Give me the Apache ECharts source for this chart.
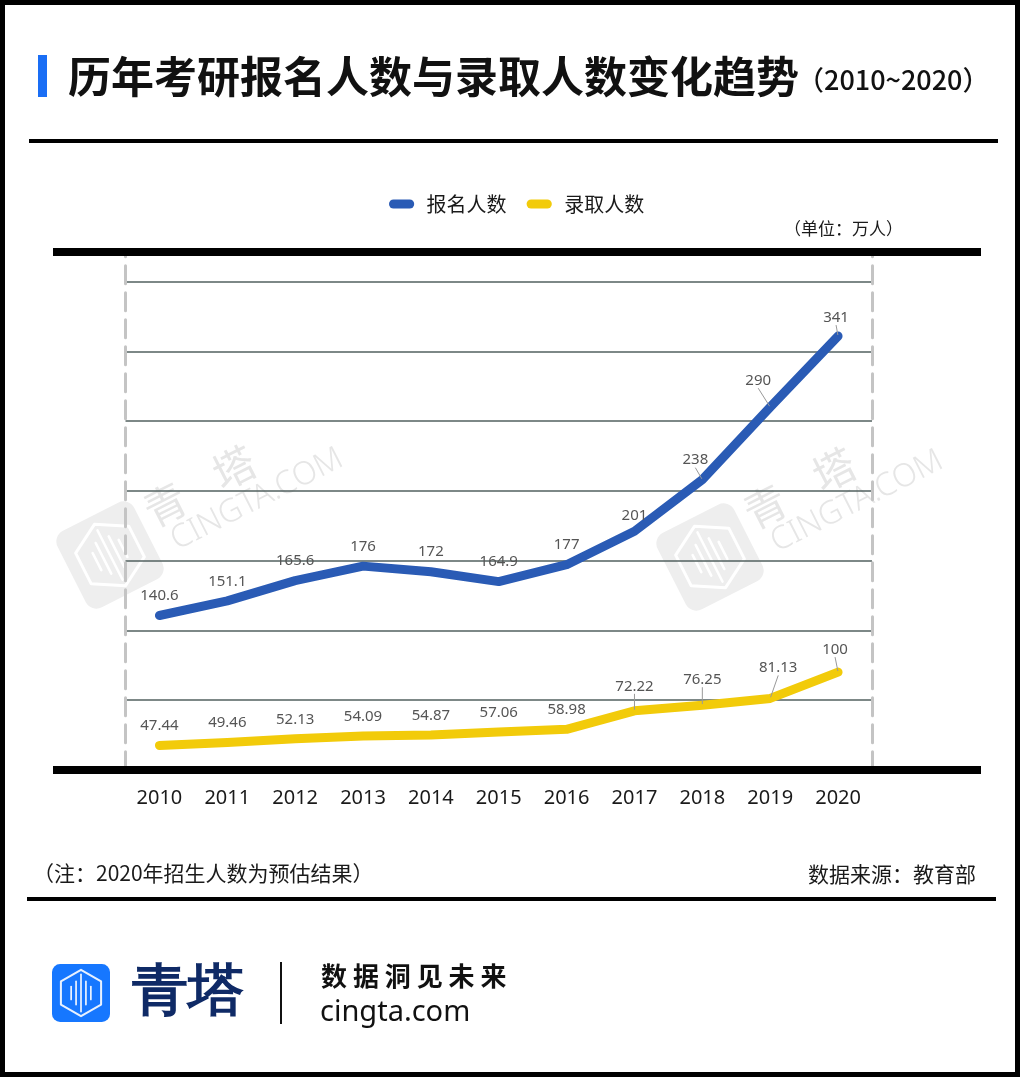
<!DOCTYPE html>
<html>
<head>
<meta charset="utf-8">
<script src="https://cdn.jsdelivr.net/npm/echarts@6/dist/echarts.min.js"></script>
<style>
html,body{margin:0;padding:0;background:#fff;}
#chart{width:1020px;height:1077px;}
</style>
</head>
<body>
<div id="chart"></div>
<script>
const years = ['2010','2011','2012','2013','2014','2015','2016','2017','2018','2019','2020'];
const applicants = [140.6, 151.1, 165.6, 176, 172, 164.9, 177, 201, 238, 290, 341];
const admitted = [47.44, 49.46, 52.13, 54.09, 54.87, 57.06, 58.98, 72.22, 76.25, 81.13, 100];
const seriesNames = ['报名人数', '录取人数'];
const yMin = 30, yMax = 400, yStep = 50;

const FONT = '"Noto Sans CJK SC","Noto Sans",sans-serif';

// label offsets (style only)
const labelShift = {
  '0-7': [0, 4], '0-8': [-7, 0], '0-9': [-12, -7], '0-10': [-2, 1],
  '1-7': [0, -5], '1-8': [0, -6], '1-9': [8, -11], '1-10': [-3, -3]
};
const leaderIdx = [[8, 9, 10], [7, 8, 9, 10]];

function buildData(vals, s) {
  return vals.map((v, i) => leaderIdx[s].indexOf(i) >= 0
    ? { value: v, labelLine: { show: true } }
    : { value: v });
}

function hexPoints(cx, cy, r) {
  const pts = [];
  for (let k = 0; k < 6; k++) {
    const a = (-90 + 60 * k) * Math.PI / 180;
    pts.push([cx + r * Math.cos(a), cy + r * Math.sin(a)]);
  }
  return pts;
}
function logoGroup(cx, cy, size, fill, stroke, rot, extra) {
  const half = size / 2;
  const r = size * 0.4;
  const children = [
    { type: 'rect', shape: { x: -half, y: -half, width: size, height: size, r: size * 0.14 }, style: { fill: fill } },
    { type: 'polygon', shape: { points: hexPoints(0, 0, r) }, style: { fill: 'none', stroke: stroke, lineWidth: size * 0.035, lineJoin: 'round' } }
  ];
  const hs = [0.28, 0.5, 0.8, 0.5, 0.28];
  for (let k = 0; k < 5; k++) {
    const x = (k - 2) * size * 0.085;
    const h = hs[k] * r;
    children.push({ type: 'line', shape: { x1: x, y1: -h, x2: x, y2: h }, style: { stroke: stroke, lineWidth: size * 0.03, lineCap: 'round' } });
  }
  return { type: 'group', x: cx, y: cy, rotation: rot, children: children.concat(extra || []), z: 1 };
}
function watermark(cx, cy) {
  const wmColor = '#e6e6e6';
  return logoGroup(cx, cy, 86, '#eeeeee', '#ffffff', 0.47, [
    { type: 'text', x: 72, y: -20, style: { text: '青', fill: wmColor, font: '42px ' + FONT, align: 'center', verticalAlign: 'middle' } },
    { type: 'text', x: 150, y: -22, style: { text: '塔', fill: wmColor, font: '42px ' + FONT, align: 'center', verticalAlign: 'middle' } },
    { type: 'text', x: 62, y: 33, style: { text: 'CINGTA.COM', fill: wmColor, font: '300 32px "Noto Sans",sans-serif', align: 'left', verticalAlign: 'bottom' } }
  ]);
}

const chart = echarts.init(document.getElementById('chart'), null, { renderer: 'canvas' });

const option = {
  backgroundColor: '#ffffff',
  animation: false,
  legend: {
    data: seriesNames,
    left: 389,
    top: 194,
    padding: 0,
    itemWidth: 28,
    itemHeight: 9,
    itemGap: 20,
    icon: 'path://M5,0H23A5,5,0,0,1,23,10H5A5,5,0,0,1,5,0Z',
    textStyle: { fontSize: 20, color: '#1a1a1a', fontFamily: FONT, padding: [0, 0, 0, 6] }
  },
  grid: { left: 125.5, right: 148, top: 253.8, bottom: 307.3, containLabel: false },
  xAxis: {
    type: 'category',
    data: years,
    boundaryGap: true,
    axisLine: { show: false },
    axisTick: { show: false },
    axisLabel: { fontSize: 20, color: '#1a1a1a', fontFamily: '"Noto Sans",sans-serif', margin: 19 }
  },
  yAxis: [
    {
      type: 'value', min: yMin, max: yMax, interval: yStep,
      axisLine: { show: true, lineStyle: { color: '#c4c4c4', width: 3, type: [18, 9] } },
      axisTick: { show: false },
      axisLabel: { show: false },
      splitLine: { show: true, lineStyle: { color: '#52605f', width: 1.5 } }
    },
    {
      type: 'value', min: yMin, max: yMax, interval: yStep, position: 'right',
      axisLine: { show: true, lineStyle: { color: '#c4c4c4', width: 3, type: [18, 9] } },
      axisTick: { show: false },
      axisLabel: { show: false },
      splitLine: { show: false }
    }
  ],
  series: [
    {
      name: seriesNames[0], type: 'line', data: buildData(applicants, 0),
      symbol: 'circle', symbolSize: 2, showSymbol: true,
      itemStyle: { color: '#2a5bb5' },
      lineStyle: { color: '#2a5bb5', width: 9, cap: 'round', join: 'round' },
      label: { show: true, position: 'top', distance: 11, fontSize: 15, color: '#555', fontFamily: '"Noto Sans",sans-serif' },
      labelLine: { show: false, lineStyle: { color: '#999', width: 1 } },
      labelLayout: function (p) { const s = labelShift[p.seriesIndex + '-' + p.dataIndex]; return s ? { dx: s[0], dy: s[1] } : {}; },
      z: 3
    },
    {
      name: seriesNames[1], type: 'line', data: buildData(admitted, 1),
      symbol: 'circle', symbolSize: 2, showSymbol: true,
      itemStyle: { color: '#f2cb0a' },
      lineStyle: { color: '#f2cb0a', width: 9, cap: 'round', join: 'round' },
      label: { show: true, position: 'top', distance: 11, fontSize: 15, color: '#555', fontFamily: '"Noto Sans",sans-serif' },
      labelLine: { show: false, lineStyle: { color: '#999', width: 1 } },
      labelLayout: function (p) { const s = labelShift[p.seriesIndex + '-' + p.dataIndex]; return s ? { dx: s[0], dy: s[1] } : {}; },
      z: 3
    }
  ],
  graphic: [
    // frame
    { type: 'rect', shape: { x: 2.5, y: 2.5, width: 1015, height: 1072 }, style: { fill: 'none', stroke: '#000', lineWidth: 5 }, z: 100 },
    // title
    { type: 'rect', shape: { x: 38, y: 55, width: 9, height: 42 }, style: { fill: '#1a6ef5' }, z: 10 },
    { type: 'text', x: 68, y: 77, style: { text: '历年考研报名人数与录取人数变化趋势', fill: '#111', font: 'bold 43px ' + FONT, verticalAlign: 'middle' }, z: 10 },
    { type: 'text', x: 797, y: 80, style: { text: '（2010~2020）', fill: '#111', font: '500 27px ' + FONT, verticalAlign: 'middle' }, z: 10 },
    { type: 'rect', shape: { x: 29, y: 139, width: 969, height: 4 }, style: { fill: '#000' }, z: 10 },
    // unit
    { type: 'text', x: 784, y: 229, style: { text: '（单位：万人）', fill: '#1a1a1a', font: '17px ' + FONT, verticalAlign: 'middle' }, z: 10 },
    // plot frame bars
    { type: 'rect', shape: { x: 53, y: 248, width: 928, height: 8 }, style: { fill: '#000' }, z: 10 },
    { type: 'rect', shape: { x: 53, y: 766, width: 928, height: 8 }, style: { fill: '#000' }, z: 10 },
    // watermarks
    watermark(110, 555),
    watermark(710, 557),
    // note and source
    { type: 'text', x: 33, y: 873, style: { text: '（注：2020年招生人数为预估结果）', fill: '#1a1a1a', font: '21px ' + FONT, verticalAlign: 'middle' }, z: 10 },
    { type: 'text', x: 976, y: 874, style: { text: '数据来源：教育部', fill: '#1a1a1a', font: '21px ' + FONT, align: 'right', verticalAlign: 'middle' }, z: 10 },
    { type: 'rect', shape: { x: 27, y: 897, width: 969, height: 4 }, style: { fill: '#000' }, z: 10 },
    // footer logo
    logoGroup(81, 993, 58, '#1677ff', '#e8f1ff', 0, []),
    { type: 'text', x: 188, y: 995, style: { text: '青塔', fill: '#0f2a66', font: 'bold 56px serif', align: 'center', verticalAlign: 'middle' }, z: 10 },
    { type: 'rect', shape: { x: 280, y: 962, width: 2, height: 62 }, style: { fill: '#111' }, z: 10 },
    { type: 'text', x: 321, y: 976, style: { text: '数 据 洞 见 未 来', fill: '#111', font: 'bold 26px ' + FONT, verticalAlign: 'middle' }, z: 10 },
    { type: 'text', x: 320, y: 1013, style: { text: 'cingta.com', fill: '#111', font: '29px "Noto Sans",sans-serif', verticalAlign: 'middle' }, z: 10 }
  ]
};
chart.setOption(option);
</script>
</body>
</html>
